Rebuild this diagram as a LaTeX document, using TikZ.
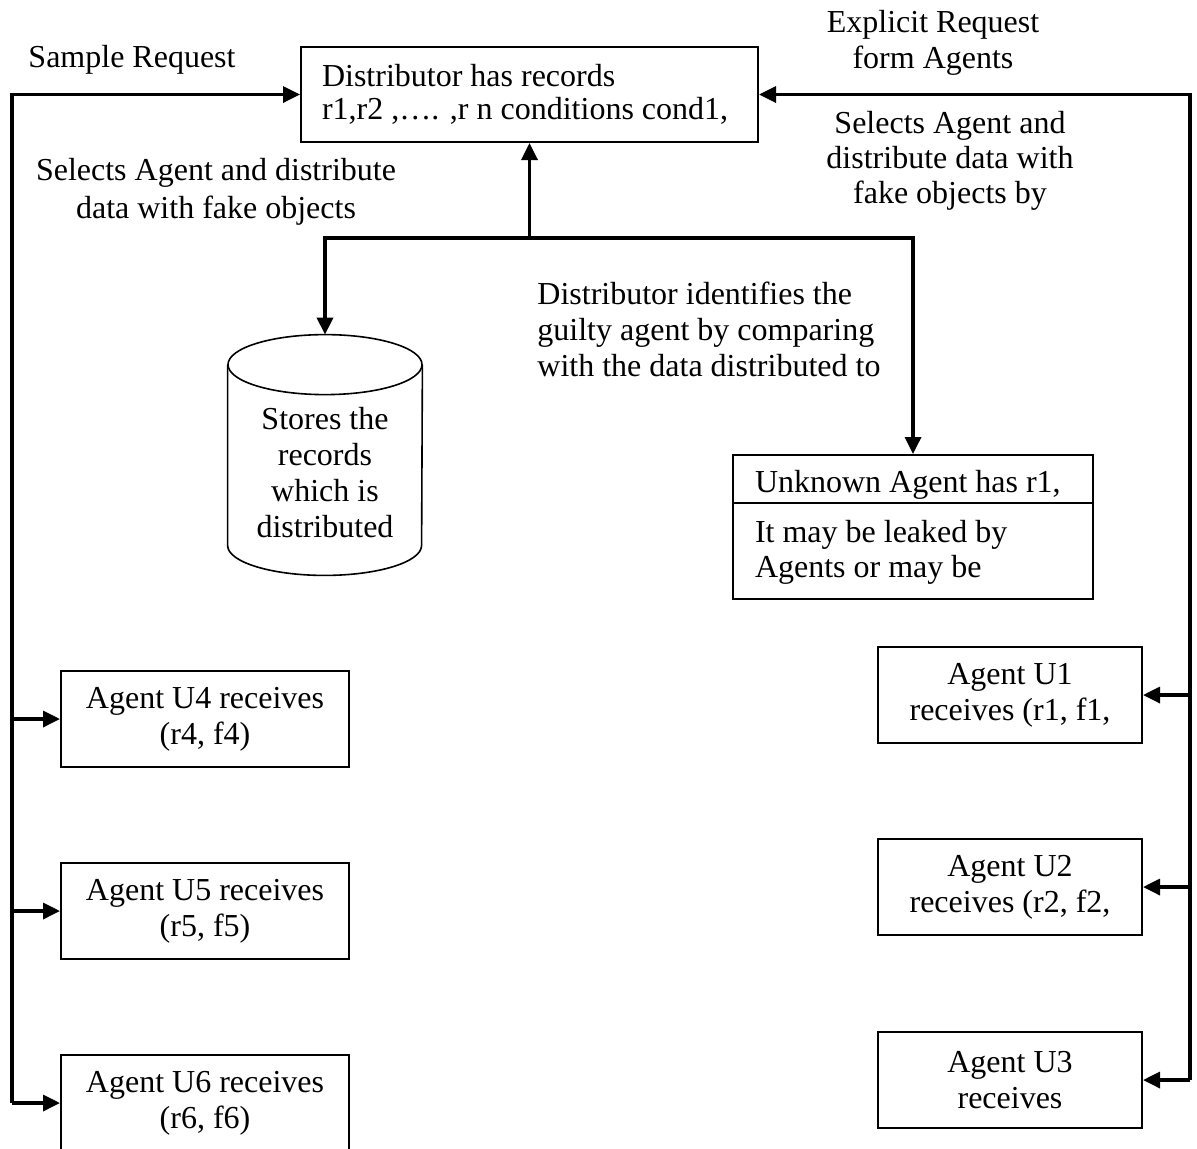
\documentclass[tikz,border=0pt]{standalone}
\usepackage{fontspec}
\setmainfont{Liberation Serif}
\usetikzlibrary{arrows.meta}

\begin{document}
\begin{tikzpicture}[x=0.5pt, y=-0.5pt, font={\fontsize{16pt}{18pt}\selectfont},
    caja/.style={draw, line width=1pt, align=center, inner sep=0pt, minimum height=48pt},
    linea/.style={line width=1.7pt},
    flecha/.style={linea, -{Triangle[length=8.5pt, width=8pt]}}]

    \useasboundingbox (0,0) rectangle (1197,1148);

    % agentes de la izquierda: #1 = nombre, #2 = altura, #3 = texto
    \newcommand{\agenteizq}[3]{%
        \node[caja, minimum width=144pt] (#1) at (205,#2) {#3};
        \draw[flecha] (busizq |- #1.west) -- (#1.west);}
    % agentes de la derecha
    \newcommand{\agenteder}[3]{%
        \node[caja, minimum width=132pt] (#1) at (1010,#2) {#3};
        \draw[flecha] (busder |- #1.east) -- (#1.east);}

    % distribuidor
    \node[caja, minimum width=228.5pt, minimum height=47.5pt, text width=207.5pt, align=flush left,
          font={\fontsize{16pt}{16.5pt}\selectfont}] (dist) at (529.5,94.5)
        {Distributor has records\\r1,r2 ,…. ,r n conditions cond1,};

    % almacen (cilindro)
    \node[inner sep=0pt, minimum width=97pt, minimum height=120pt, align=center] (store) at (325,455)
        {\rule{0pt}{29pt}Stores the\\records\\which is\\distributed};
    \draw[line width=0.8pt] ([yshift=-15pt]store.north west) -- ([yshift=15pt]store.south west)
        arc[start angle=180, end angle=360, x radius=48.5pt, y radius=15pt]
        -- ([yshift=-15pt]store.north east);
    \draw[line width=0.8pt] ([yshift=-15pt]store.north) ellipse [x radius=48.5pt, y radius=15pt];

    % agente desconocido
    \node[caja, minimum width=180pt, minimum height=72pt, text width=158pt, align=flush left,
          font={\fontsize{16pt}{17.5pt}\selectfont}] (unk) at (913,527)
        {Unknown Agent has r1,\\[7.5pt]It may be leaked by\\Agents or may be};
    \draw[line width=1pt] ([yshift=-24.5pt]unk.north west) -- ([yshift=-24.5pt]unk.north east);

    % etiquetas
    \node (sample) at (132,60) {Sample Request};
    \node[align=center] (explicit) at (933,43) {Explicit Request\\form Agents};
    \node[align=center, font={\fontsize{16pt}{19pt}\selectfont}] (selizq) at (216,192)
        {Selects Agent and distribute\\data with fake objects};
    \node[align=center, font={\fontsize{16pt}{17.5pt}\selectfont}] (selder) at (950,161)
        {Selects Agent and\\distribute data with\\fake objects by};
    \node[align=left, anchor=west, inner sep=0pt] (ident) at (537,329)
        {Distributor identifies the\\guilty agent by comparing\\with the data distributed to};

    \coordinate (busizq) at (12,96);
    \coordinate (busder) at (1190,96);
    \coordinate (nudo) at (529.5,238);

    \agenteizq{u4}{719}{Agent U4 receives\\(r4, f4)}
    \agenteizq{u5}{911}{Agent U5 receives\\(r5, f5)}
    \agenteizq{u6}{1103}{Agent U6 receives\\(r6, f6)}
    \agenteder{u1}{695}{Agent U1\\receives (r1, f1,}
    \agenteder{u2}{887}{Agent U2\\receives (r2, f2,}
    \agenteder{u3}{1080}{Agent U3\\receives}

    % peticiones
    \draw[flecha] (busizq |- u6.west) |- (dist.west);
    \draw[flecha] (busder |- u3.east) |- (dist.east);

    % distribucion y deteccion
    \draw[flecha] (nudo) -- (dist.south);
    \draw[flecha] (nudo) -| (store.north);
    \draw[flecha] (nudo) -| (unk.north);

\end{tikzpicture}
\end{document}
